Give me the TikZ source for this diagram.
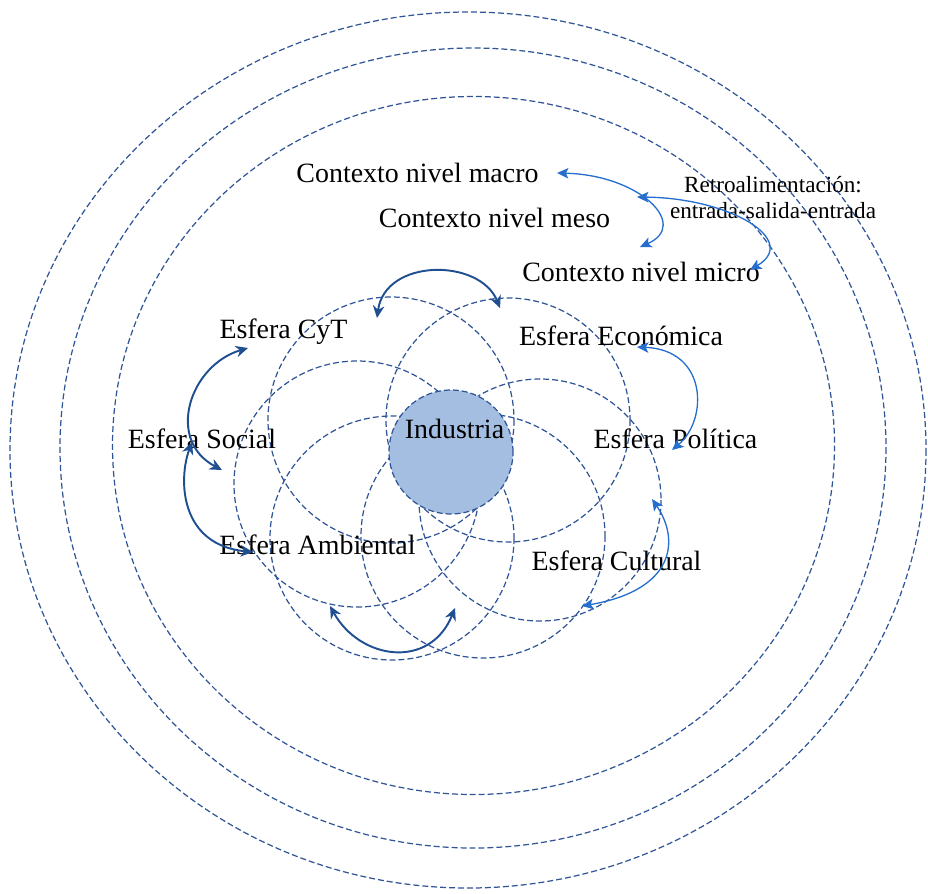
\documentclass[tikz,border=0pt]{standalone}
\usepackage{fontspec}
\setmainfont{Liberation Serif}
\usetikzlibrary{arrows.meta}

\definecolor{ringblue}{RGB}{47,85,151}
\definecolor{industriafill}{RGB}{164,190,226}
\definecolor{arrowdark}{RGB}{31,78,145}
\definecolor{arrowlight}{RGB}{38,110,205}

\begin{document}
\begin{tikzpicture}[x=0.02cm,y=-0.02cm,
	ring/.style={draw=ringblue, line width=0.7pt, dash pattern=on 3.4pt off 1.7pt},
	esfera/.style={font=\fontsize{15.9}{19}\selectfont, inner sep=0pt, anchor=base},
	industria/.style={circle, ring, fill=industriafill, minimum size=2.48cm, inner sep=0pt},
	darkarrow/.style={draw=arrowdark, line width=1.1pt, >={Stealth[length=7pt,width=6.5pt]}, <->},
	lightarrow/.style={draw=arrowlight, line width=0.75pt, >={Stealth[length=6.5pt,width=6pt,inset=1.5pt]}, <->}]
	\useasboundingbox (0,0) rectangle (928,893);

	% macro, meso and micro context rings
	\draw[ring] (468,450) ellipse [x radius=458, y radius=438];
	\draw[ring] (473,448) ellipse [x radius=413, y radius=400];
	\draw[ring] (473.5,445.5) ellipse [x radius=361, y radius=349];

	% the six spheres
	\draw[ring] (391,420) circle [radius=123]; % CyT
	\draw[ring] (508,420) circle [radius=122]; % Economica
	\draw[ring] (357,484) circle [radius=123]; % Social
	\draw[ring] (540,500) circle [radius=121]; % Politica
	\draw[ring] (392,538) circle [radius=122]; % Ambiental
	\draw[ring] (483,536) circle [radius=122]; % Cultural

	\node[industria] (ind) at (451,452) {};
	\node[esfera] (indname) at (454.5,438) {Industria};

	% labels
	\node[esfera] (macro) at (417.5,182) {Contexto nivel macro};
	\node[esfera] (meso) at (494.5,227) {Contexto nivel meso};
	\node[esfera] (micro) at (641,281) {Contexto nivel micro};
	\node[font=\fontsize{13.2}{15.3}\selectfont, align=center, inner sep=0pt] (retro) at (773,197.5) {Retroalimentación:\\entrada-salida-entrada};
	\node[esfera] (cyt) at (283.5,338) {Esfera CyT};
	\node[esfera] (eco) at (621,345) {Esfera Económica};
	\node[esfera] (social) at (202,448) {Esfera Social};
	\node[esfera] (pol) at (675.5,448) {Esfera Política};
	\node[esfera] (amb) at (317.5,554) {Esfera Ambiental};
	\node[esfera] (cult) at (616.5,570) {Esfera Cultural};

	% arrow ends
	\coordinate (cyt-top) at (377,318);
	\coordinate (eco-top) at (500,308);
	\coordinate (cyt-left) at (248,348);
	\coordinate (social-in) at (222,470);
	\coordinate (social-up) at (192,442);
	\coordinate (amb-left) at (253,552);
	\coordinate (amb-low) at (330,606);
	\coordinate (cult-low) at (455,608);
	\coordinate (eco-right) at (637,347);
	\coordinate (pol-in) at (672,450);
	\coordinate (pol-low) at (652,499);
	\coordinate (cult-right) at (582,606);
	\coordinate (macro-end) at (557,173);
	\coordinate (meso-low) at (640,247);
	\coordinate (meso-end) at (637,197);
	\coordinate (micro-end) at (750,270);

	% exchanges between spheres
	\draw[darkarrow] (cyt-top) .. controls (385,258) and (480,258) .. (eco-top);
	\draw[darkarrow] (cyt-left) .. controls (190,365) and (165,440) .. (social-in);
	\draw[darkarrow] (social-up) .. controls (178,480) and (180,545) .. (amb-left);
	\draw[darkarrow] (amb-low) .. controls (360,660) and (430,670) .. (cult-low);
	\draw[lightarrow] (eco-right) .. controls (708,350) and (708,420) .. (pol-in);
	\draw[lightarrow] (pol-low) .. controls (680,540) and (675,590) .. (cult-right);

	% feedback between the context levels
	\draw[lightarrow] (macro-end) .. controls (640,175) and (690,225) .. (meso-low);
	\draw[lightarrow] (meso-end) .. controls (730,198) and (800,240) .. (micro-end);
\end{tikzpicture}
\end{document}
